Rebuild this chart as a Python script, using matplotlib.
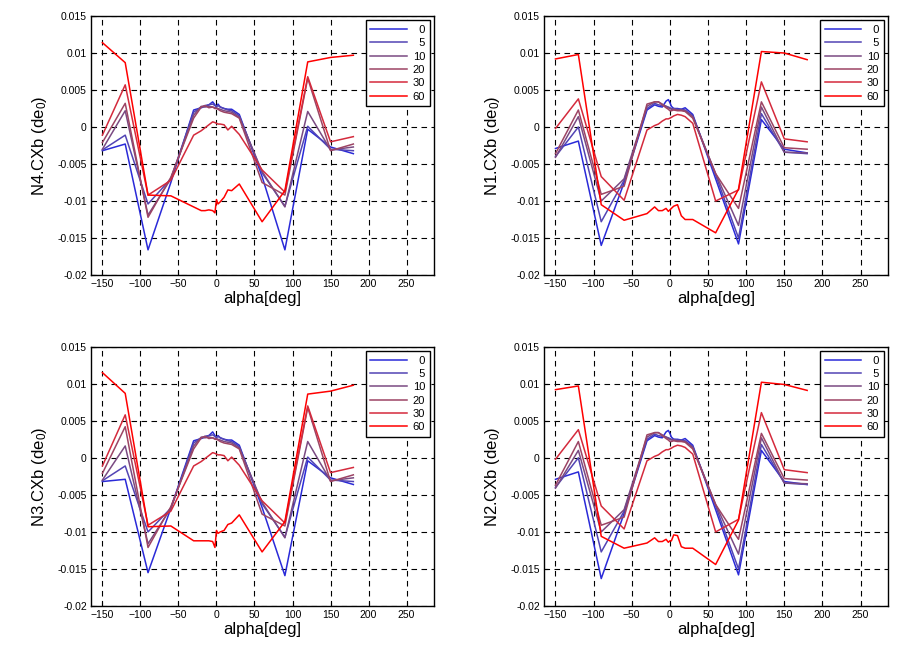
import matplotlib
matplotlib.use('Agg')
import matplotlib.pyplot as plt

plt.rcParams['font.family'] = ['Liberation Sans', 'DejaVu Sans']
plt.rcParams['mathtext.default'] = 'regular'

# shared angle grid (deg)
alpha = [-150, -120, -90, -60, -30, -20, -15, -10, -5, -2, 0, 2, 5, 10, 15, 20, 30, 60, 90, 120, 150, 180]
labels = ['\u20070', '\u20075', '10', '20', '30', '60']
colors = ['#2a2ad8', '#5244b4', '#7a4a82', '#9c4464', '#d42a3c', '#ff0000']

# N4.CXb
n4_0 = [-0.0032, -0.0023, -0.0166, -0.0075, 0.0023, 0.0026, 0.0028, 0.0030, 0.0034, 0.0030, 0.0027, 0.0031, 0.0027, 0.0025, 0.0024, 0.0024, 0.0017, -0.0067, -0.0166, -0.0003, -0.0027, -0.0036]
n4_5 = [-0.0031, -0.0011, -0.0104, -0.0070, 0.0020, 0.0027, 0.0029, 0.0030, 0.0031, 0.0029, 0.0028, 0.0029, 0.0027, 0.0025, 0.0023, 0.0022, 0.0015, -0.0062, -0.0107, 0.0001, -0.0030, -0.0032]
n4_10 = [-0.0030, 0.0022, -0.0119, -0.0070, 0.0016, 0.0028, 0.0027, 0.0028, 0.0027, 0.0026, 0.0026, 0.0025, 0.0024, 0.0022, 0.0021, 0.0020, 0.0013, -0.0060, -0.0108, 0.0021, -0.0031, -0.0027]
n4_20 = [-0.0021, 0.0032, -0.0122, -0.0068, 0.0012, 0.0027, 0.0029, 0.0026, 0.0027, 0.0025, 0.0025, 0.0024, 0.0022, 0.0020, 0.0019, 0.0018, 0.0012, -0.0075, -0.0092, 0.0066, -0.0032, -0.0023]
n4_30 = [-0.0011, 0.0057, -0.0092, -0.0072, -0.0011, -0.0005, -0.0001, 0.0003, 0.0007, 0.0006, 0.0005, 0.0004, 0.0004, 0.0003, -0.0004, 0.0001, -0.0010, -0.0058, -0.0088, 0.0068, -0.0020, -0.0013]
n4_60 = [0.0114, 0.0087, -0.0092, -0.0093, -0.0108, -0.0113, -0.0113, -0.0112, -0.0113, -0.0116, -0.0098, -0.0104, -0.0101, -0.0095, -0.0085, -0.0086, -0.0077, -0.0128, -0.0086, 0.0088, 0.0094, 0.0097]

# N1.CXb
n1_0 = [-0.0029, -0.0019, -0.0160, -0.0075, 0.0023, 0.0030, 0.0028, 0.0027, 0.0035, 0.0037, 0.0033, 0.0028, 0.0025, 0.0025, 0.0024, 0.0026, 0.0017, -0.0070, -0.0158, 0.0010, -0.0030, -0.0035]
n1_5 = [-0.0040, 0.0000, -0.0128, -0.0072, 0.0025, 0.0032, 0.0030, 0.0029, 0.0028, 0.0027, 0.0026, 0.0025, 0.0025, 0.0024, 0.0024, 0.0023, 0.0015, -0.0065, -0.0150, 0.0018, -0.0034, -0.0036]
n1_10 = [-0.0041, 0.0014, -0.0100, -0.0070, 0.0028, 0.0034, 0.0034, 0.0031, 0.0028, 0.0026, 0.0025, 0.0024, 0.0024, 0.0023, 0.0023, 0.0022, 0.0014, -0.0063, -0.0133, 0.0027, -0.0034, -0.0035]
n1_20 = [-0.0036, 0.0023, -0.0091, -0.0080, 0.0031, 0.0034, 0.0034, 0.0030, 0.0026, 0.0024, 0.0022, 0.0022, 0.0023, 0.0022, 0.0022, 0.0021, 0.0012, -0.0063, -0.0110, 0.0034, -0.0028, -0.0030]
n1_30 = [-0.0002, 0.0038, -0.0067, -0.0099, -0.0004, 0.0002, 0.0004, 0.0008, 0.0011, 0.0011, 0.0012, 0.0013, 0.0015, 0.0017, 0.0016, 0.0014, 0.0005, -0.0100, -0.0085, 0.0061, -0.0016, -0.0020]
n1_60 = [0.0092, 0.0098, -0.0105, -0.0126, -0.0117, -0.0108, -0.0113, -0.0113, -0.0110, -0.0114, -0.0112, -0.0110, -0.0107, -0.0105, -0.0120, -0.0125, -0.0125, -0.0143, -0.0084, 0.0102, 0.0100, 0.0091]

# N3.CXb
n3_0 = [-0.0032, -0.0029, -0.0155, -0.0068, 0.0023, 0.0026, 0.0028, 0.0030, 0.0035, 0.0030, 0.0027, 0.0030, 0.0027, 0.0025, 0.0024, 0.0024, 0.0017, -0.0067, -0.0159, -0.0004, -0.0027, -0.0036]
n3_5 = [-0.0031, -0.0011, -0.0100, -0.0068, 0.0020, 0.0027, 0.0029, 0.0030, 0.0031, 0.0029, 0.0028, 0.0029, 0.0027, 0.0025, 0.0023, 0.0022, 0.0015, -0.0062, -0.0107, 0.0001, -0.0030, -0.0032]
n3_10 = [-0.0030, 0.0016, -0.0116, -0.0068, 0.0016, 0.0028, 0.0027, 0.0028, 0.0027, 0.0026, 0.0026, 0.0025, 0.0024, 0.0022, 0.0021, 0.0020, 0.0013, -0.0060, -0.0108, 0.0022, -0.0031, -0.0027]
n3_20 = [-0.0021, 0.0042, -0.0121, -0.0066, 0.0012, 0.0027, 0.0029, 0.0026, 0.0027, 0.0025, 0.0025, 0.0024, 0.0022, 0.0020, 0.0019, 0.0018, 0.0012, -0.0076, -0.0092, 0.0068, -0.0032, -0.0023]
n3_30 = [-0.0011, 0.0058, -0.0091, -0.0072, -0.0011, -0.0005, -0.0001, 0.0003, 0.0007, 0.0006, 0.0005, 0.0004, 0.0004, 0.0003, -0.0004, 0.0001, -0.0010, -0.0058, -0.0088, 0.0070, -0.0020, -0.0013]
n3_60 = [0.0115, 0.0087, -0.0093, -0.0092, -0.0112, -0.0112, -0.0112, -0.0112, -0.0113, -0.0121, -0.0098, -0.0102, -0.0100, -0.0098, -0.0090, -0.0088, -0.0077, -0.0127, -0.0086, 0.0086, 0.0090, 0.0098]

# N2.CXb
n2_0 = [-0.0029, -0.0019, -0.0163, -0.0075, 0.0023, 0.0030, 0.0028, 0.0027, 0.0035, 0.0037, 0.0033, 0.0028, 0.0025, 0.0025, 0.0024, 0.0026, 0.0017, -0.0070, -0.0158, 0.0010, -0.0032, -0.0036]
n2_5 = [-0.0040, 0.0000, -0.0127, -0.0072, 0.0025, 0.0032, 0.0030, 0.0029, 0.0028, 0.0027, 0.0026, 0.0025, 0.0025, 0.0024, 0.0024, 0.0023, 0.0015, -0.0065, -0.0150, 0.0018, -0.0034, -0.0036]
n2_10 = [-0.0041, 0.0010, -0.0100, -0.0070, 0.0028, 0.0034, 0.0034, 0.0031, 0.0028, 0.0026, 0.0025, 0.0024, 0.0024, 0.0023, 0.0023, 0.0022, 0.0014, -0.0063, -0.0130, 0.0027, -0.0034, -0.0035]
n2_20 = [-0.0037, 0.0022, -0.0091, -0.0080, 0.0031, 0.0034, 0.0034, 0.0030, 0.0026, 0.0024, 0.0022, 0.0022, 0.0023, 0.0022, 0.0022, 0.0021, 0.0012, -0.0063, -0.0110, 0.0033, -0.0028, -0.0030]
n2_30 = [-0.0002, 0.0038, -0.0065, -0.0096, -0.0004, 0.0002, 0.0004, 0.0008, 0.0011, 0.0011, 0.0012, 0.0013, 0.0015, 0.0017, 0.0016, 0.0014, 0.0005, -0.0100, -0.0083, 0.0061, -0.0016, -0.0020]
n2_60 = [0.0092, 0.0097, -0.0106, -0.0122, -0.0115, -0.0108, -0.0113, -0.0113, -0.0110, -0.0114, -0.0112, -0.0112, -0.0104, -0.0105, -0.0120, -0.0122, -0.0122, -0.0144, -0.0084, 0.0102, 0.0099, 0.0091]

xticks = [-150, -100, -50, 0, 50, 100, 150, 200, 250]
yticks = [-0.02, -0.015, -0.01, -0.005, 0, 0.005, 0.01, 0.015]
ytick_labels = ['-0.02', '-0.015', '-0.01', '-0.005', '0', '0.005', '0.01', '0.015']

panels = [
    ('N4', [0.1001, 0.5795, 0.3773, 0.396], [n4_0, n4_5, n4_10, n4_20, n4_30, n4_60]),
    ('N1', [0.5985, 0.5795, 0.3784, 0.396], [n1_0, n1_5, n1_10, n1_20, n1_30, n1_60]),
    ('N3', [0.1001, 0.0734, 0.3773, 0.3965], [n3_0, n3_5, n3_10, n3_20, n3_30, n3_60]),
    ('N2', [0.5985, 0.0734, 0.3784, 0.3965], [n2_0, n2_5, n2_10, n2_20, n2_30, n2_60]),
]

fig = plt.figure(figsize=(9.09, 6.54), dpi=100)

for name, pos, series in panels:
    ax = fig.add_axes(pos)
    for ys, lab, c in zip(series, labels, colors):
        ax.plot(alpha, ys, color=c, lw=1.1, label=lab)
    ax.set_xlim(-165, 286)
    ax.set_ylim(-0.02, 0.015)
    ax.set_xticks(xticks)
    ax.set_yticks(yticks)
    ax.set_yticklabels(ytick_labels)
    ax.tick_params(direction='in', labelsize=7.5, length=3, pad=3)
    ax.grid(True, color='black', linestyle=(0, (5, 4)), linewidth=0.8)
    for s in ax.spines.values():
        s.set_linewidth(1.0)
    ax.set_xlabel('alpha[deg]', fontsize=12, labelpad=1)
    ax.set_ylabel(name + '.CXb (de$_0$)', fontsize=12, labelpad=6)
    leg = ax.legend(loc='upper right', fontsize=8, fancybox=False, framealpha=1,
                    edgecolor='black', handlelength=3.3, labelspacing=0.3,
                    borderpad=0.4, borderaxespad=0.4, handletextpad=0.5)
    leg.get_frame().set_linewidth(1.0)

fig.savefig('out.png', dpi=100)
